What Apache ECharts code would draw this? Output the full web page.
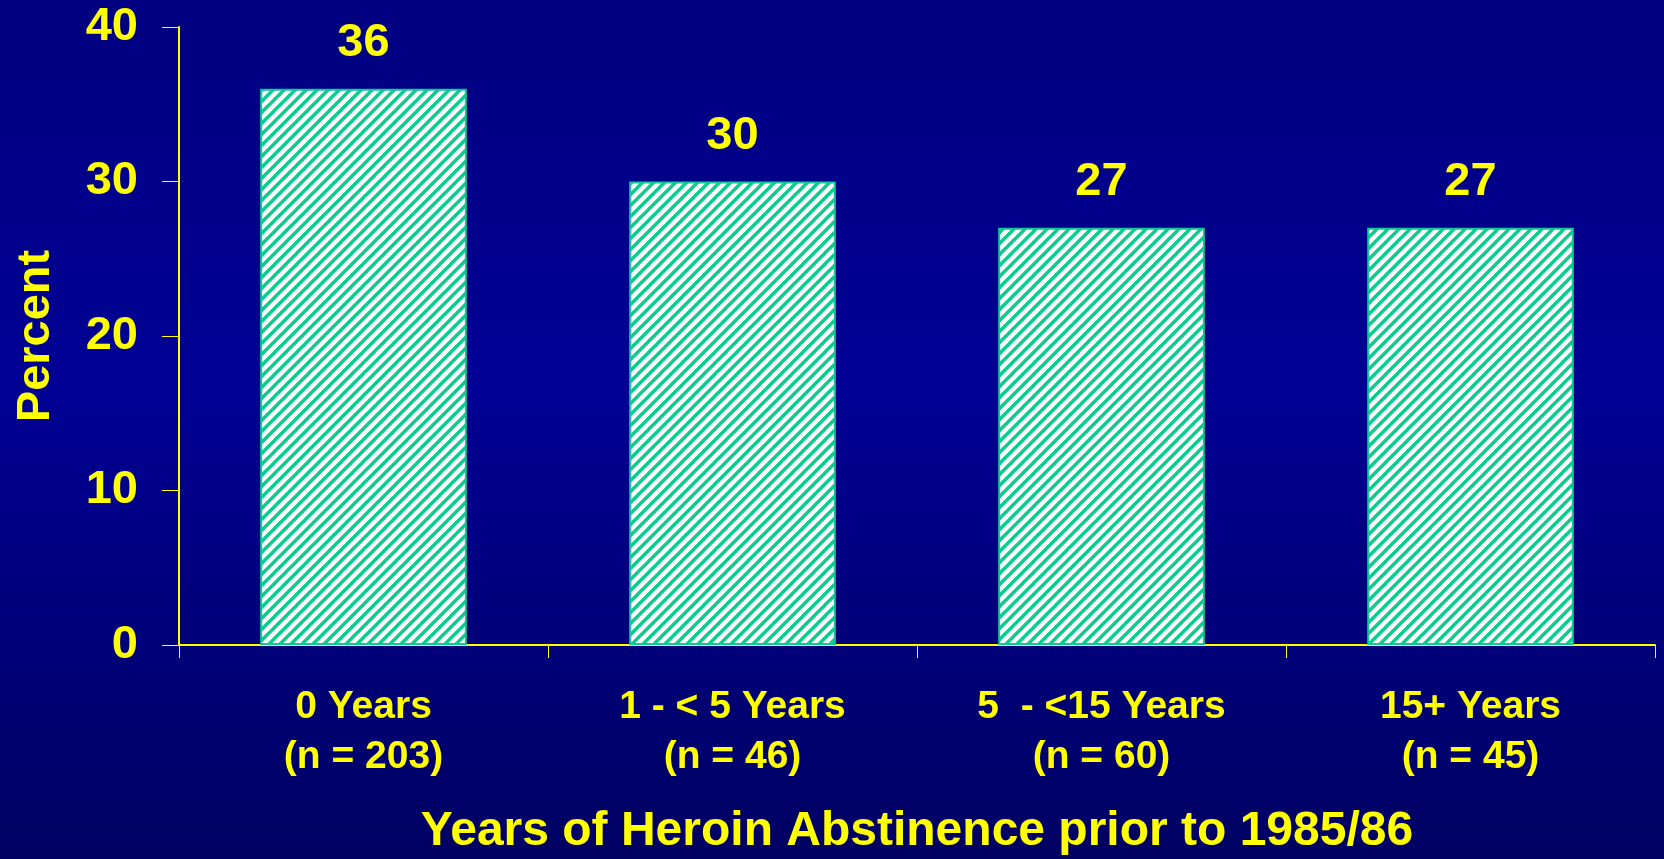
<!DOCTYPE html>
<html>
<head>
<meta charset="utf-8">
<script src="https://cdn.jsdelivr.net/npm/echarts@6/dist/echarts.min.js"></script>
<style>
html,body{margin:0;padding:0;width:1664px;height:859px;overflow:hidden;}
#chart{width:1664px;height:859px;}
</style>
</head>
<body>
<div id="chart"></div>
<script>
const categories = ["0 Years\n(n = 203)", "1 - < 5 Years\n(n = 46)", "5  - <15 Years\n(n = 60)", "15+ Years\n(n = 45)"];
const percentValues = [36, 30, 27, 27];
const yTicks = [0, 10, 20, 30, 40];
const xTitle = "Years of Heroin Abstinence prior to 1985/86";
const yTitle = "Percent";

// hatch pattern
const pc = document.createElement('canvas');
const S = 11;
pc.width = S; pc.height = S;
const ctx = pc.getContext('2d');
ctx.fillStyle = '#ffffff';
ctx.fillRect(0, 0, S, S);
ctx.strokeStyle = '#0ccb8e';
ctx.lineWidth = 3.4;
for (let k = -1; k <= 1; k++) {
  ctx.beginPath();
  ctx.moveTo(k * S - 1, S + 1);
  ctx.lineTo(k * S + S + 1, -1);
  ctx.stroke();
}

const chart = echarts.init(document.getElementById('chart'));
const yellow = '#ffff00';
const font = '"Liberation Sans", Arial, sans-serif';
chart.setOption({
  backgroundColor: {
    type: 'linear', x: 0, y: 0, x2: 0, y2: 1,
    colorStops: [
      {offset: 0, color: '#000080'},
      {offset: 0.45, color: '#000094'},
      {offset: 1, color: '#000062'}
    ]
  },
  grid: {left: 179, right: 9, top: 27, bottom: 214, containLabel: false, outerBoundsMode: 'none'},
  xAxis: {
    type: 'category',
    data: categories,
    boundaryGap: true,
    axisLine: {lineStyle: {color: yellow, width: 2}},
    axisTick: {show: true, length: 13, lineStyle: {color: yellow, width: 1}},
    axisLabel: {
      color: yellow, fontFamily: font, fontWeight: 'bold', fontSize: 39,
      lineHeight: 50, margin: 37, interval: 0
    },
    name: xTitle,
    nameLocation: 'middle',
    nameGap: 163,
    nameTextStyle: {color: yellow, fontFamily: font, fontWeight: 'bold', fontSize: 48}
  },
  yAxis: {
    type: 'value',
    min: 0, max: 40, interval: 10,
    splitLine: {show: false},
    axisLine: {show: true, lineStyle: {color: yellow, width: 2}},
    axisTick: {show: true, length: 17, lineStyle: {color: yellow, width: 1}},
    axisLabel: {
      color: yellow, fontFamily: font, fontWeight: 'bold', fontSize: 47, margin: 41,
      formatter: function (v) { return yTicks.indexOf(v) >= 0 ? String(v) : ''; }
    },
    name: yTitle,
    nameLocation: 'middle',
    nameGap: 119,
    nameRotate: 90,
    nameTextStyle: {color: yellow, fontFamily: font, fontWeight: 'bold', fontSize: 47}
  },
  series: [{
    type: 'bar',
    data: percentValues,
    barWidth: '56%',
    itemStyle: {
      color: {image: pc, repeat: 'repeat'},
      borderColor: '#14c896',
      borderWidth: 2
    },
    label: {
      show: true, position: 'top', distance: 22,
      color: yellow, fontFamily: font, fontWeight: 'bold', fontSize: 47
    }
  }]
});
</script>
</body>
</html>
